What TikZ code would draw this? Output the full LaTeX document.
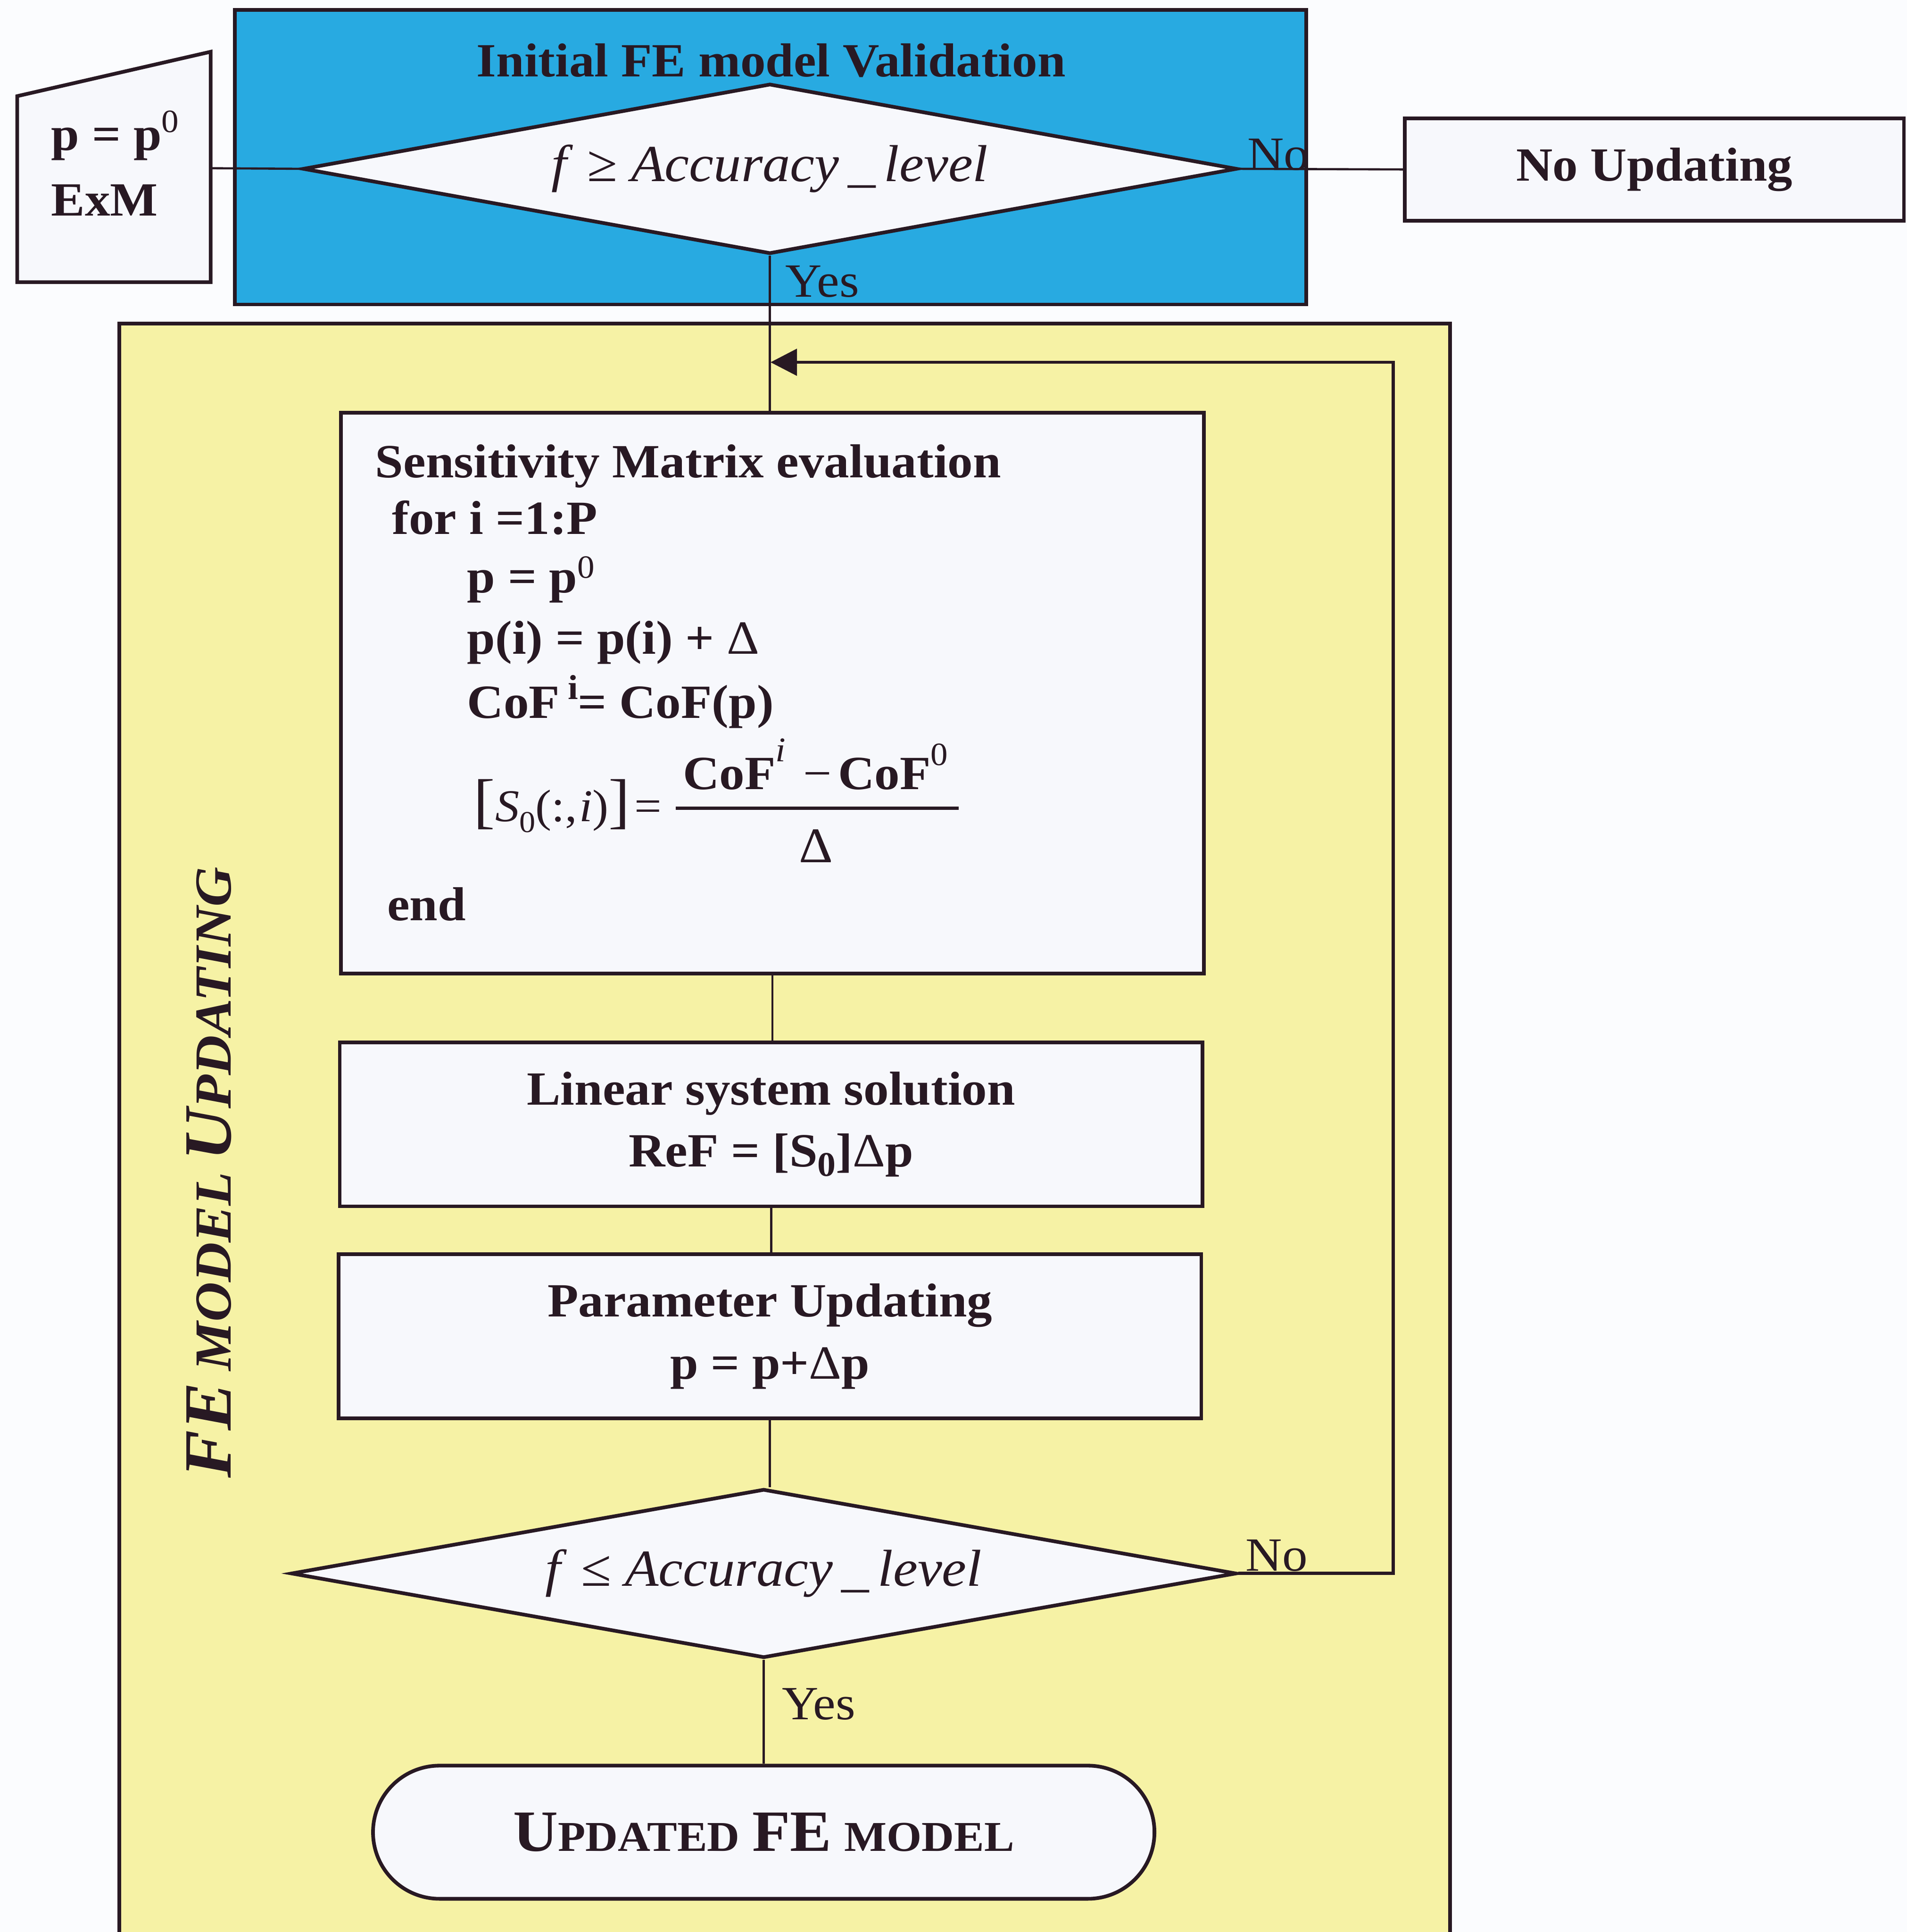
\documentclass[tikz,border=0pt]{standalone}
\usepackage{fontspec}
\setmainfont{Liberation Serif}[FakeStretch=1.06]
\usetikzlibrary{shapes.geometric,arrows.meta}
\definecolor{ink}{RGB}{40,25,35}
\definecolor{bluefill}{RGB}{40,170,225}
\definecolor{yellowfill}{RGB}{246,242,165}
\definecolor{boxfill}{RGB}{247,248,252}
\definecolor{pagebg}{RGB}{251,252,254}
\newcommand{\fsz}[1]{\fontsize{#1}{#1}\selectfont}
\newcommand{\supr}[2]{\raisebox{#1}{\fsz{7.5}\mdseries #2}}
\begin{document}
\begin{tikzpicture}[x=0.01cm,y=-0.01cm,
  frame/.style={draw=ink,line width=0.85pt},
  procbox/.style={frame,fill=boxfill,rectangle,inner sep=0pt,text=ink,
    font=\fontsize{11}{14.3}\selectfont\bfseries,align=center},
  decide/.style={frame,fill=boxfill,diamond,aspect=5.5,inner sep=0pt,text=ink,
    font=\fsz{12}},
  conn/.style={draw=ink,line width=0.5pt},
  loopline/.style={draw=ink,line width=0.75pt},
  txt/.style={inner sep=0pt,anchor=base west,text=ink,font=\fsz{11}\bfseries},
  lbl/.style={inner sep=0pt,anchor=base west,text=ink,font=\fsz{11}},
]
\useasboundingbox (0,0) rectangle (1548,1568);
\fill[pagebg] (0,0) rectangle (1548,1568);
\clip (0,0) rectangle (1548,1568);

% regions
\filldraw[frame,fill=yellowfill] (97,262.5) rectangle (1177,1600);
\node[frame,fill=bluefill,rectangle,inner sep=0pt,minimum width=8.69cm,minimum height=2.39cm] (valid) at (625.5,127.5) {};
\node[txt,anchor=base] (title) at (626,62) {Initial FE model Validation};

% input (manual input shape)
\filldraw[frame,fill=boxfill] (14,78) -- (171,42) -- (171,229) -- (14,229) -- cycle;
\coordinate (inp) at (171,136.5);
\node[txt] (p0) at (41,122) {p = p\supr{4.2pt}{0}};
\node[txt] (exm) at (41,175) {ExM};

% first decision
\node[decide,minimum width=7.58cm,minimum height=1.38cm] (d1) at (625,137)
  {\itshape f\/ {\upshape ≥} Accuracy\,\_\,level};
\node[procbox,minimum width=4.05cm,minimum height=0.83cm] (noupd) at (1343,137.5) {No Updating};

% sensitivity box
\node[procbox,minimum width=7.0cm,minimum height=4.55cm] (sens) at (627,562.5) {};
\node[txt] (s1) at (304,387.7) {Sensitivity Matrix evaluation};
\node[txt] (s2) at (317.6,433.6) {for i =1:P};
\node[txt] (s3) at (378.6,481) {p = p\supr{3.4pt}{0}};
\node[txt] (s4) at (378.6,530.7) {p(i) = p(i) + {\mdseries Δ}};
\node[txt] (s5) at (378.6,582.8) {CoF\,\raisebox{4.3pt}{\fsz{8}i}= CoF(p)};
\node[txt,font=\fsz{10.5}\mdseries] (s6) at (384,666.5)
  {{\fsz{14}[}{\itshape S}\raisebox{-2.5pt}{\fsz{7}0}(:,\kern0.5pt{\itshape i}){\fsz{14}]}\kern1pt=};
\node[txt,anchor=base] (num) at (662,640.7)
  {CoF\raisebox{6.5pt}{\fsz{8}\mdseries\itshape i}\hspace{4pt}{\mdseries −}\hspace{1.5pt}CoF\supr{5.6pt}{0}};
\draw[ink,line width=0.8pt] (548.7,656) -- (778.2,656);
\node[txt,anchor=base,font=\fsz{11.5}\mdseries] (den) at (662.5,700) {Δ};
\node[txt] (s7) at (313.7,747) {end};

% linear system and parameter update
\node[procbox,minimum width=7.0cm,minimum height=1.33cm] (lin) at (626,912.5)
  {Linear system solution\\ReF = [S\raisebox{-0.2em}{\fsz{8}0}]{\mdseries Δ}p};
\node[procbox,minimum width=7.0cm,minimum height=1.33cm] (par) at (625,1084.5)
  {Parameter Updating\\p = p+{\mdseries Δ}p};

% second decision
\node[decide,minimum width=7.67cm,minimum height=1.37cm] (d2) at (620,1277)
  {\itshape f\/ {\upshape ≤} Accuracy\,\_\,level};

% terminal
\node[procbox,rounded corners=0.54cm,minimum width=6.34cm,minimum height=1.08cm] (term) at (620,1487)
  {{\fsz{13.5}U}{\fsz{9.8}PDATED} {\fsz{13.5}FE} {\fsz{9.8}MODEL}};

% vertical title
\node[rotate=90,inner sep=0pt,text=ink,font=\bfseries\itshape] (vt) at (169.5,951.6)
  {{\fsz{15.6}FE} {\fsz{12}MODEL} {\fsz{15.6}U}{\fsz{12}PDATING}};

% connectors
\coordinate (lpc) at (1131,294);
\coordinate (join) at (625.5,294);
\draw[conn] (inp) -- (d1.west);
\draw[conn] (d1.east) -- (noupd.west);
\draw[conn] (d1.south) -- (d1.south |- sens.north);
\draw[conn] (sens.south) -- (sens.south |- lin.north);
\draw[conn] (lin.south) -- (lin.south |- par.north);
\draw[conn] (par.south) -- (par.south |- d2.north);
\draw[conn] (d2.south) -- (term.north);
\draw[loopline,-{Triangle[length=0.215cm,width=0.215cm]}] (d2.east) -| (lpc) -- (join);

% labels
\node[lbl] (no1) at (1012,137.8) {No};
\node[lbl] (yes1) at (637,241) {Yes};
\node[lbl] (no2) at (1010.6,1275) {No};
\node[lbl] (yes2) at (634,1395.7) {Yes};
\end{tikzpicture}
\end{document}
